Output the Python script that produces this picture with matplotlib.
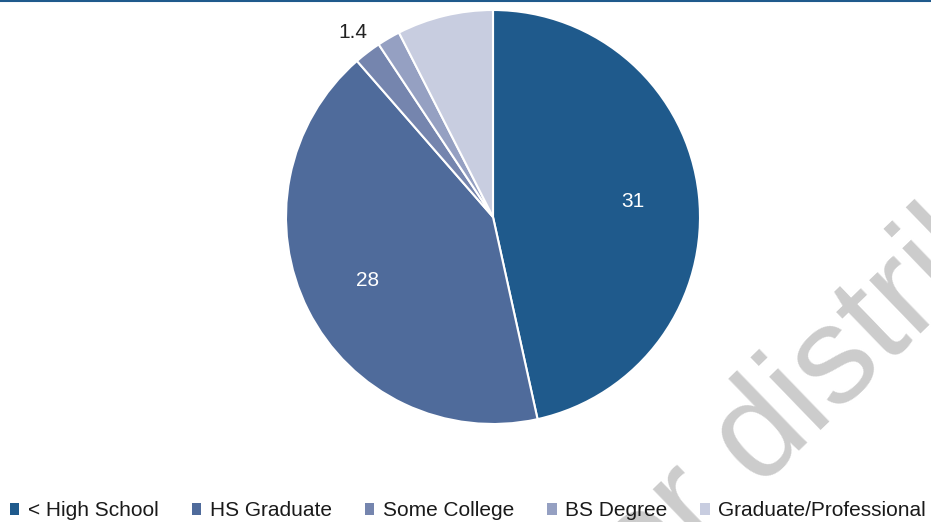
"""
Pie chart of education level distribution.
"""

import matplotlib.pyplot as plt
import numpy as np
from matplotlib.lines import Line2D
from matplotlib.patches import Patch

plt.rcParams["font.family"] = ["Liberation Sans", "DejaVu Sans"]

# Data
categories = ["< High School", "HS Graduate", "Some College", "BS Degree", "Graduate/Professional"]
values = [31, 28, 1.4, 1.2, 5.0]
value_labels = ["31", "28", "1.4", "", ""]
colors = ["#1f5a8c", "#4f6b9b", "#7585ae", "#95a0c2", "#c8cde0"]

W, H = 931, 522
fig = plt.figure(figsize=(W / 100, H / 100), dpi=100)

# Watermark (behind everything)
fig.text(
    837 / W, 1 - 415 / H, "Not for distribution",
    fontsize=100, color="#cccccc", rotation=44,
    ha="center", va="baseline", rotation_mode="anchor", zorder=0,
)

# Pie axes: center (493, 217) px, radius 207 px
cx, cy, r = 493, 217, 207
ax = fig.add_axes([(cx - r) / W, 1 - (cy + r) / H, 2 * r / W, 2 * r / H])
ax.set_zorder(1)
wedges, _ = ax.pie(
    values,
    colors=colors,
    startangle=90,
    counterclock=False,
    radius=1.0,
    wedgeprops=dict(edgecolor="white", linewidth=1.5),
)
ax.set_xlim(-1, 1)
ax.set_ylim(-1, 1)
ax.set_aspect("equal")
ax.axis("off")

# Data labels: inside (white) for large slices, outside (dark) for small ones
total = sum(values)
for w, v, lab in zip(wedges, values, value_labels):
    if not lab:
        continue
    mid = np.deg2rad((w.theta1 + w.theta2) / 2)
    if v / total > 0.1:
        d, col = 0.68, "white"
    else:
        d, col = 1.12, "#222222"
    ax.text(d * np.cos(mid), d * np.sin(mid), lab, ha="center", va="center",
            fontsize=15, color=col)

# Legend along the bottom
handles = [Patch(facecolor=c, edgecolor="none") for c in colors]
fig.legend(
    handles, categories,
    loc="center left", bbox_to_anchor=(10 / W, 1 - 511 / H),
    ncol=5, frameon=False, fontsize=15, borderaxespad=0, borderpad=0,
    handlelength=0.45, handleheight=0.45, handletextpad=0.4, columnspacing=1.6,
    labelcolor="#1a1a1a",
)

# Thin blue rule at the top
fig.add_artist(Line2D([0, 1], [1 - 1 / H, 1 - 1 / H], transform=fig.transFigure,
                      color="#1f5a8c", linewidth=1.5))

fig.savefig("out.png", dpi=100)
print("[PLOT] Saved to out.png")
